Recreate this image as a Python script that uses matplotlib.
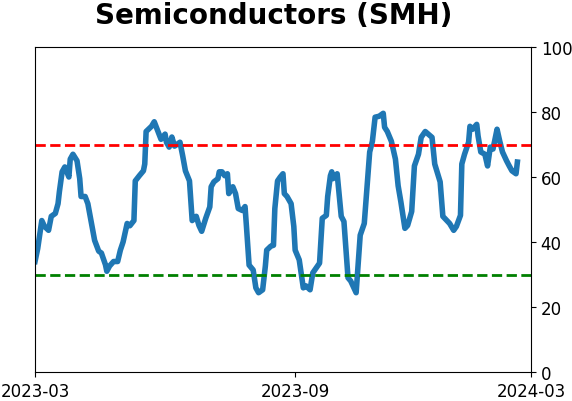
import numpy as np
import pandas as pd
import matplotlib
matplotlib.use("Agg")
import matplotlib.pyplot as plt
import matplotlib.dates as mdates

# values
dates = [
    "2023-03-01", "2023-03-03", "2023-03-06", "2023-03-08", "2023-03-11", "2023-03-13",
    "2023-03-16", "2023-03-18", "2023-03-19", "2023-03-21", "2023-03-23", "2023-03-26",
    "2023-03-27", "2023-03-29", "2023-04-01", "2023-04-03", "2023-04-04", "2023-04-07",
    "2023-04-09", "2023-04-12", "2023-04-14", "2023-04-17", "2023-04-19", "2023-04-22",
    "2023-04-23", "2023-04-25", "2023-04-28", "2023-05-01", "2023-05-03", "2023-05-05",
    "2023-05-08", "2023-05-10", "2023-05-13", "2023-05-14", "2023-05-17", "2023-05-20",
    "2023-05-21", "2023-05-22", "2023-05-26", "2023-05-28", "2023-05-31", "2023-06-02",
    "2023-06-05", "2023-06-06", "2023-06-08", "2023-06-10", "2023-06-12", "2023-06-16",
    "2023-06-18", "2023-06-20", "2023-06-23", "2023-06-25", "2023-06-28", "2023-06-30",
    "2023-07-02", "2023-07-05", "2023-07-08", "2023-07-09", "2023-07-11", "2023-07-14",
    "2023-07-15", "2023-07-17", "2023-07-19", "2023-07-21", "2023-07-22", "2023-07-25",
    "2023-07-27", "2023-07-29", "2023-08-01", "2023-08-03", "2023-08-04", "2023-08-06",
    "2023-08-09", "2023-08-11", "2023-08-13", "2023-08-16", "2023-08-18", "2023-08-19",
    "2023-08-22", "2023-08-24", "2023-08-25", "2023-08-27", "2023-08-29", "2023-08-31",
    "2023-09-01", "2023-09-03", "2023-09-06", "2023-09-08", "2023-09-09", "2023-09-12",
    "2023-09-15", "2023-09-17", "2023-09-20", "2023-09-22", "2023-09-27", "2023-09-29",
    "2023-10-02", "2023-10-03", "2023-10-05", "2023-10-06", "2023-10-07", "2023-10-10",
    "2023-10-13", "2023-10-15", "2023-10-18", "2023-10-20", "2023-10-24", "2023-10-27",
    "2023-10-30", "2023-11-03", "2023-11-05", "2023-11-07", "2023-11-10", "2023-11-13",
    "2023-11-14", "2023-11-16", "2023-11-19", "2023-11-22", "2023-11-24", "2023-11-26",
    "2023-11-29", "2023-12-01", "2023-12-04", "2023-12-06", "2023-12-09", "2023-12-11",
    "2023-12-14", "2023-12-17", "2023-12-19", "2023-12-21", "2023-12-25", "2023-12-27",
    "2023-12-30", "2024-01-01", "2024-01-04", "2024-01-06", "2024-01-09", "2024-01-10",
    "2024-01-12", "2024-01-15", "2024-01-16", "2024-01-18", "2024-01-21", "2024-01-22",
    "2024-01-24", "2024-01-27", "2024-01-29", "2024-01-31", "2024-02-02", "2024-02-05",
    "2024-02-07", "2024-02-09", "2024-02-12", "2024-02-14", "2024-02-16", "2024-02-19",
    "2024-02-20",
]
values = [
    34, 38, 46.6, 44.8, 43.6, 47.9,
    48.8, 51.8, 55.5, 61.6, 63.1, 60,
    65.5, 67, 65, 59.5, 54, 54,
    51.8, 45, 40.5, 37.2, 36.6, 33,
    31, 32.6, 34, 34, 37.5, 40,
    45.7, 45, 46.6, 58.8, 60.4, 61.9,
    64, 74, 75.6, 77, 73.8, 71.6,
    73.2, 70.7, 69.2, 72.3, 69.5, 70.7,
    66.5, 61.9, 58.8, 46.6, 47.9, 45.1,
    43.3, 47.3, 50.8, 57, 58.5, 59.5,
    61.6, 61.6, 60.4, 61, 54.9, 57,
    54.9, 50.3, 49.7, 50.9, 45.1, 32.9,
    31.4, 25.9, 24.4, 25.3, 32.6, 37.5,
    38.7, 39, 50.3, 58.8, 60, 61,
    54.9, 54, 51.8, 44.8, 37.5, 34.5,
    25.9, 26.5, 25.3, 30.5, 33.5, 47.3,
    48.2, 54, 60.4, 61.6, 59.5, 61,
    47.9, 46.3, 29, 28, 24.4, 42.1,
    45.7, 67.7, 71, 78.4, 78.7, 79.6,
    75.3, 74, 71, 65.5, 57.3, 52.4,
    44.2, 45.1, 49.4, 63.4, 67, 72.2,
    74, 72.9, 72.2, 64, 58.5, 47.9,
    46.6, 45.7, 43.6, 44.8, 48.2, 64,
    67, 70.7, 75.6, 74.7, 76.2, 72.6,
    67.7, 67, 63.4, 69.2, 68.6, 74.7,
    71, 67.7, 65, 63.4, 61.9, 61,
    64.6,
]
upper_level = 70
lower_level = 30
# the middle label sits a little right of the month start in the reference
tick_dates = ["2023-03-01", "2023-09-09", "2024-03-01"]

x = pd.to_datetime(dates)

fig = plt.figure(figsize=(5.72, 4.02), dpi=100)
ax = fig.add_axes([0.0612, 0.0721, 0.867, 0.8085])
ax.plot(x, values, color="tab:blue", linewidth=4)
ax.axhline(upper_level, color="red", linestyle="--", linewidth=2)
ax.axhline(lower_level, color="green", linestyle="--", linewidth=2)

ax.set_ylim(0, 100)
ax.set_xlim(pd.Timestamp(tick_dates[0]), pd.Timestamp(tick_dates[-1]))
ax.set_xticks(pd.to_datetime(tick_dates))
ax.xaxis.set_major_formatter(mdates.DateFormatter("%Y-%m"))
ax.yaxis.tick_right()
ax.tick_params(labelsize=12)
ax.set_title("Semiconductors (SMH)", fontsize=20, fontweight="bold", pad=17, x=0.482)

fig.savefig("out.png", dpi=100)
